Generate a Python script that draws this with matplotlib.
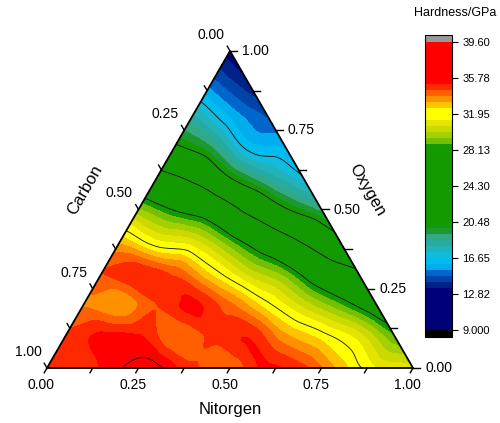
import matplotlib
matplotlib.use("Agg")
import matplotlib.pyplot as plt
import matplotlib.tri as mtri
import numpy as np
from matplotlib.colors import LinearSegmentedColormap, Normalize

plt.rcParams["font.family"] = ["Liberation Sans", "DejaVu Sans"]

# hardness (GPa), one row per oxygen fraction,
# running from the carbon edge (N = 0) to the N-O edge (C = 0)
oxygen_rows = [0.0, 0.1, 0.2, 0.3, 0.4, 0.5, 0.6, 0.7, 0.8, 0.9, 1.0]
h_o00 = [34.6, 34.7, 35.75, 35.95, 34.6, 34.0, 35.3, 34.7, 33.0, 31.3, 31.0]
h_o01 = [34.6, 35.3, 35.2, 33.9, 34.6, 35.1, 33.4, 32.3, 31.0, 28.8]
h_o02 = [33.8, 33.3, 34.5, 35.3, 34.0, 32.2, 30.4, 28.8, 26.9]
h_o03 = [34.5, 35.0, 34.3, 32.4, 30.4, 29.0, 26.5, 24.7]
h_o04 = [33.0, 31.4, 30.8, 28.8, 26.6, 24.0, 21.2]
h_o05 = [29.5, 28.0, 26.7, 23.6, 20.7, 18.9]
h_o06 = [25.4, 23.7, 20.5, 18.4, 16.8]
h_o07 = [20.7, 19.1, 16.3, 15.9]
h_o08 = [17.9, 15.8, 14.6]
h_o09 = [15.0, 13.6]
h_o10 = [13.0]
hardness_rows = [h_o00, h_o01, h_o02, h_o03, h_o04, h_o05,
                 h_o06, h_o07, h_o08, h_o09, h_o10]

# colour scale
h_min, h_max = 9.0, 39.6
cbar_ticks = [9.0, 12.825, 16.65, 20.475, 24.3, 28.125, 31.95, 35.775, 39.6]
cbar_labels = ["9.000", "12.82", "16.65", "20.48", "24.30", "28.13", "31.95", "35.78", "39.60"]
line_levels = [16.65, 20.475, 24.3, 28.125, 31.95, 35.775]
axis_ticks = [0.0, 0.25, 0.5, 0.75, 1.0]
axis_tick_labels = ["0.00", "0.25", "0.50", "0.75", "1.00"]

anchors = [(9.0, "#000078"), (13.4, "#000078"), (13.8, "#002288"), (14.4, "#0044aa"),
           (15.0, "#0066cc"), (15.45, "#0099ee"), (15.9, "#00bbee"), (16.6, "#00bbee"),
           (17.2, "#22bbcc"), (18.0, "#22aaaa"), (18.8, "#33aa88"), (19.4, "#229944"),
           (20.0, "#139a00"), (28.6, "#139a00"), (29.0, "#66bb00"), (29.6, "#99cc00"),
           (30.3, "#c8d800"), (31.0, "#e0e000"), (31.6, "#ffff00"), (32.4, "#ffff00"),
           (32.9, "#ffcc00"), (33.5, "#ff9900"), (34.1, "#ff6600"), (34.8, "#ff3300"),
           (35.4, "#ff0000"), (39.6, "#ff0000")]
cmap = LinearSegmentedColormap.from_list(
    "hard", [((v - h_min) / (h_max - h_min), c) for v, c in anchors])
cmap.set_under("black")
cmap.set_over("#999999")
norm = Normalize(h_min, h_max)
levels = np.linspace(h_min, h_max, 49)

# ternary -> cartesian
s3 = np.sqrt(3) / 2
N, O, H = [], [], []
for o, row in zip(oxygen_rows, hardness_rows):
    n = np.linspace(0, 1 - o, len(row))
    N.extend(n)
    O.extend([o] * len(row))
    H.extend(row)
N, O, H = np.array(N), np.array(O), np.array(H)
x = N + O / 2
y = O * s3

triang = mtri.Triangulation(x, y)
refiner = mtri.UniformTriRefiner(triang)
interp = mtri.CubicTriInterpolator(triang, H, kind="geom")
tri_f, h_f = refiner.refine_field(H, subdiv=4, triinterpolator=interp)

fig = plt.figure(figsize=(5, 4.23), dpi=100)
ax = fig.add_axes([47 / 500, 55 / 423, 366 / 500, 317 / 423])
ax.set_xlim(0, 1)
ax.set_ylim(0, s3)
ax.axis("off")

cs = ax.tricontourf(tri_f, h_f, levels=levels, cmap=cmap, norm=norm, extend="both")
ax.tricontour(tri_f, h_f, levels=line_levels, colors="#111111", linewidths=0.6)

# triangle frame
ax.plot([0, 1, 0.5, 0], [0, 0, s3, 0], color="black", lw=1.3, clip_on=False,
        solid_joinstyle="miter")

px = 1 / 366
tl = 5.5 * px
minor = np.arange(0, 1.0001, 0.125)
for t in minor:
    # bottom axis (Nitorgen), ticks down-left
    ax.plot([t, t - 0.5 * tl], [0, -s3 * tl], color="black", lw=1, clip_on=False)
    # left axis (Carbon), ticks up-left
    lx, ly = (1 - t) / 2, (1 - t) * s3
    ax.plot([lx, lx - 0.5 * tl], [ly, ly + s3 * tl], color="black", lw=1, clip_on=False)
    # right axis (Oxygen), ticks to the right
    rx, ry = 1 - t / 2, t * s3
    ax.plot([rx, rx + tl * 1.3], [ry, ry], color="black", lw=1, clip_on=False)

for t, lab in zip(axis_ticks, axis_tick_labels):
    ax.text(t - 5.5 * px, -17 * px, lab, ha="center", va="center", fontsize=10)
    lx, ly = (1 - t) / 2, (1 - t) * s3
    ax.text(lx - 19 * px, ly + 16 * px, lab, ha="center", va="center", fontsize=10)
    rx, ry = 1 - t / 2, t * s3
    ax.text(rx + 12 * px, ry, lab, ha="left", va="center", fontsize=10)

ax.text(0.5, -41 * px, "Nitorgen", ha="center", va="center", fontsize=12)
ax.text(38 * px, 178 * px, "Carbon", ha="center", va="center", fontsize=12,
        rotation=60, rotation_mode="anchor")
ax.text(320 * px, 178 * px, "Oxygen", ha="center", va="center", fontsize=12,
        rotation=-60, rotation_mode="anchor")

# colour bar
cax = fig.add_axes([425 / 500, 86 / 423, 27 / 500, 302 / 423])
cb = fig.colorbar(cs, cax=cax, ticks=cbar_ticks, extendrect=True, extendfrac=7 / 302)
cb.ax.set_yticklabels(cbar_labels)
cb.ax.tick_params(labelsize=8, length=4, width=0.8, direction="out")
cb.outline.set_linewidth(0.8)
fig.text(455 / 500, 1 - 13 / 423, "Hardness/GPa", ha="center", va="center", fontsize=9)

fig.savefig("out.png", dpi=100)
